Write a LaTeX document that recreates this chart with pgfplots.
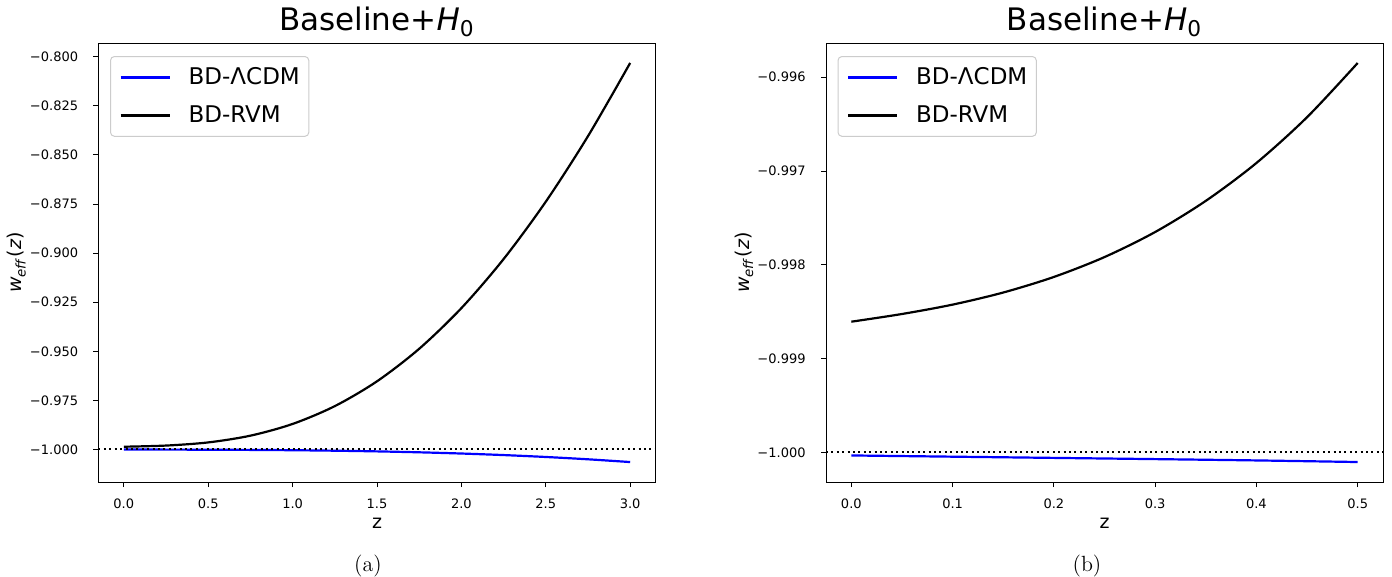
\documentclass[border=0pt]{standalone}
\usepackage{fontspec}
\usepackage{pgfplots}
\pgfplotsset{compat=1.18}
\newfontfamily\dv{DejaVu Sans}
\definecolor{legbord}{gray}{0.8}

\pgfplotsset{
  panel/.style={
    scale only axis,
    width=278.5pt, height=219.5pt,
    anchor=south west,
    axis line style={line width=0.5pt, black},
    tick pos=left,
    tick align=outside,
    major tick length=2.5pt,
    every tick/.style={black, line width=0.5pt},
    ticklabel style={font=\dv\fontsize{6.5}{7.5}\selectfont},
    xticklabel style={inner sep=0pt, anchor=center, yshift=-8.5pt},
    yticklabel style={inner sep=0pt, anchor=east, xshift=-7.5pt},
    title style={font=\dv\fontsize{15.5}{18}\selectfont, at={(0.5,1)}, anchor=base, yshift=0.5pt},
    xlabel={\dv z},
    xlabel style={font=\dv\fontsize{9.5}{11}\selectfont, at={(rel axis cs:0.5,0)}, anchor=center, yshift=-20.5pt},
    ylabel={\textit{w}\textsubscript{\textit{eff}}(\textit{z})},
    ylabel style={font=\dv\fontsize{9.5}{11}\selectfont, at={([xshift=-41pt]rel axis cs:0,0.5)}, anchor=center},
    legend cell align=left,
    legend image code/.code={\draw[#1] (0pt,0pt) -- (24.5pt,0pt); \path (33.5pt,0pt);},
    legend style={at={(0,1)}, anchor=north west, xshift=5.75pt, yshift=-6.5pt,
      draw=legbord, line width=0.5pt, rounded corners=2pt, fill=white,
      font=\dv\fontsize{11.5}{13}\selectfont,
      inner xsep=4.5pt, inner ysep=5.5pt, row sep=9pt,
      nodes={inner sep=0pt}},
  },
  blueline/.style={blue, line width=1.1pt, smooth},
  blackline/.style={black, line width=1.1pt, smooth},
  dotline/.style={black, line width=1pt, dash pattern=on 1pt off 1.7pt, forget plot},
}

\begin{document}
\begin{tikzpicture}
\useasboundingbox (0,0) rectangle (696pt,-288.5pt);

% ---------------- panel (a) ----------------
\begin{axis}[panel,
  at={(49.25pt,-241pt)},
  title={Baseline+\textit{H}\textsubscript{0}},
  xmin=-0.15, xmax=3.15,
  ymin=-1.01657, ymax=-0.79296,
  xtick={0,0.5,1,1.5,2,2.5,3},
  xticklabels={0.0,0.5,1.0,1.5,2.0,2.5,3.0},
  ytick={-1,-0.975,-0.95,-0.925,-0.9,-0.875,-0.85,-0.825,-0.8},
  yticklabels={−1.000,−0.975,−0.950,−0.925,−0.900,−0.875,−0.850,−0.825,−0.800},
]
\addplot[blueline] coordinates {
 (0,-1.000030) (0.25,-1.000066) (0.5,-1.000123) (0.75,-1.000221)
 (1.0,-1.000382) (1.25,-1.000626) (1.5,-1.000974) (1.75,-1.001447)
 (2.0,-1.002066) (2.25,-1.002851) (2.5,-1.003824) (2.75,-1.005004)
 (3.0,-1.006414)};
\addlegendentry{BD-ΛCDM}
\addplot[blackline] coordinates {
 (0,-0.99860) (0.25,-0.99801) (0.5,-0.99641) (0.75,-0.99297)
 (1.0,-0.98700) (1.25,-0.97792) (1.5,-0.96528) (1.75,-0.94871)
 (2.0,-0.92800) (2.25,-0.90302) (2.5,-0.87379) (2.75,-0.84041)
 (3.0,-0.80312)};
\addlegendentry{BD-RVM}
\addplot[dotline] coordinates {(-0.15,-1) (3.15,-1)};
\end{axis}

% ---------------- panel (b) ----------------
\begin{axis}[panel,
  at={(413pt,-241pt)},
  title={Baseline+\textit{H}\textsubscript{0}},
  xmin=-0.025, xmax=0.525,
  ymin=-1.000315, ymax=-0.995635,
  xtick={0,0.1,0.2,0.3,0.4,0.5},
  xticklabels={0.0,0.1,0.2,0.3,0.4,0.5},
  ytick={-1,-0.999,-0.998,-0.997,-0.996},
  yticklabels={−1.000,−0.999,−0.998,−0.997,−0.996},
]
\addplot[blueline] coordinates {
 (0,-1.000032) (0.1,-1.000045) (0.2,-1.000058) (0.3,-1.000071)
 (0.4,-1.000085) (0.5,-1.000102)};
\addlegendentry{BD-ΛCDM}
\addplot[blackline] coordinates {
 (0,-0.998606) (0.05,-0.998524) (0.10,-0.998424) (0.15,-0.998295)
 (0.20,-0.998129) (0.25,-0.997917) (0.30,-0.997650) (0.35,-0.997318)
 (0.40,-0.996914) (0.45,-0.996426) (0.50,-0.995848)};
\addlegendentry{BD-RVM}
\addplot[dotline] coordinates {(-0.025,-1) (0.525,-1)};
\end{axis}

\node[font=\fontsize{11}{13}\selectfont] at (184pt,-283.25pt) {(a)};
\node[font=\fontsize{11}{13}\selectfont] at (543.5pt,-283.25pt) {(b)};
\end{tikzpicture}
\end{document}
